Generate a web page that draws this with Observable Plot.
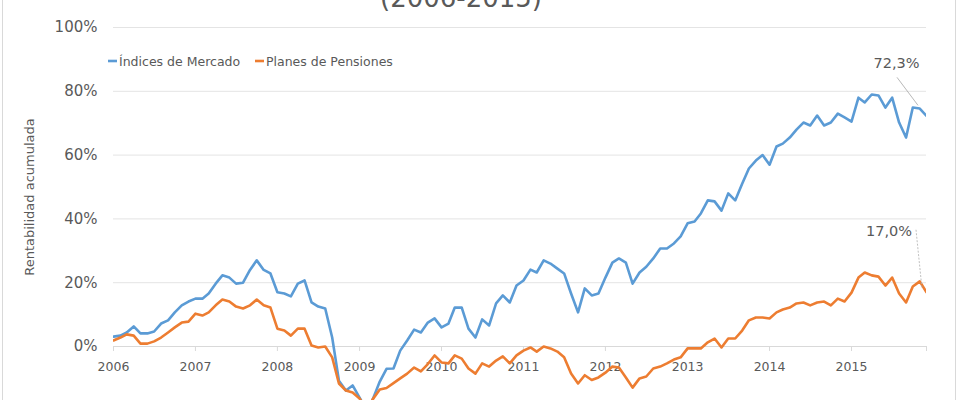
<!DOCTYPE html>
<html>
<head>
<meta charset="utf-8">
<script src="https://cdn.jsdelivr.net/npm/d3@7"></script>
<script src="https://cdn.jsdelivr.net/npm/@observablehq/plot@0.6"></script>
<style>
  html, body { margin: 0; padding: 0; background: #fff; }
  #wrap { position: relative; width: 960px; height: 400px; overflow: hidden; font-family: "DejaVu Sans", sans-serif; color: #595959; }
  #wrap svg.ov { position: absolute; left: 0; top: 0; pointer-events: none; }
  .edge { position: absolute; top: -10px; height: 420px; width: 0; border-left: 1px solid #d9d9d9; }
</style>
</head>
<body>
<div id="wrap">
  <div id="chart"></div>
  <svg class="ov" width="960" height="400" font-family="DejaVu Sans, sans-serif" fill="#595959">
    <text id="title" x="461" y="7" text-anchor="middle" font-size="26"></text>
    <text id="ylabel" transform="translate(34,197) rotate(-90)" text-anchor="middle" font-size="13"></text>
    <g id="legend"></g>
  </svg>
  <div class="edge" style="left:2px"></div>
  <div class="edge" style="left:955px"></div>
</div>
<script>
// ---- data ----
const titleText = "(2006-2015)";
const yAxisLabel = "Rentabilidad acumulada";
const seriesNames = ["Índices de Mercado", "Planes de Pensiones"];
const seriesColors = ["#5b9bd5", "#ed7d31"];
const startMonth = "2006-01-01";
const yearLabels = ["2006","2007","2008","2009","2010","2011","2012","2013","2014","2015"];
const yTicks = [0, 20, 40, 60, 80, 100];

// Monthly cumulative return (%), Jan 2006 - Dec 2015
const indices = [
  3.1, 3.4, 4.4, 6.3, 4.1, 4.1, 4.7, 7.2, 8.2, 10.7, 12.9, 14.1,
  15.0, 15.0, 16.6, 19.7, 22.3, 21.6, 19.7, 20.0, 24.0, 27.0, 24.0, 22.9,
  17.0, 16.6, 15.7, 19.7, 20.7, 13.8, 12.5, 11.9, 2.8, -10.7, -13.8, -12.2,
  -16.0, -20.0, -16.5, -11.0, -7.0, -6.9, -1.3, 1.9, 5.3, 4.4, 7.5, 8.8,
  6.0, 7.2, 12.2, 12.2, 5.6, 2.8, 8.5, 6.6, 13.5, 16.0, 13.8, 19.1,
  20.7, 24.1, 23.2, 27.0, 26.0, 24.4, 22.9, 16.6, 10.7, 18.2, 16.0, 16.6,
  21.6, 26.3, 27.6, 26.3, 19.7, 23.2, 25.0, 27.6, 30.7, 30.7, 32.3, 34.5,
  38.6, 39.2, 41.7, 45.8, 45.5, 42.6, 48.0, 45.8, 51.0, 55.8, 58.3, 60.0,
  57.0, 62.7, 63.6, 65.5, 68.0, 70.2, 69.3, 72.4, 69.3, 70.2, 73.0, 71.8,
  70.5, 78.0, 76.5, 79.0, 78.7, 74.9, 78.0, 70.2, 65.5, 74.9, 74.6, 72.3
];
const planes = [
  1.9, 2.8, 3.8, 3.4, 0.9, 0.9, 1.6, 2.8, 4.4, 6.0, 7.5, 7.8,
  10.3, 9.7, 10.7, 12.9, 14.7, 14.1, 12.5, 11.9, 12.9, 14.7, 12.9, 12.2,
  5.6, 5.0, 3.4, 5.6, 5.6, 0.3, -0.3, 0.0, -3.4, -11.6, -13.8, -14.4,
  -16.3, -20.0, -16.5, -13.5, -13.0, -11.5, -10.0, -8.5, -6.6, -7.8, -5.5, -2.8,
  -5.0, -5.3, -2.8, -3.8, -6.9, -8.5, -5.3, -6.3, -4.4, -3.1, -5.3, -2.8,
  -1.3, -0.3, -1.6, 0.0, -0.6, -1.6, -3.4, -8.5, -11.6, -9.0, -10.5, -9.7,
  -8.2, -6.3, -6.6, -9.7, -12.9, -10.0, -9.4, -6.9, -6.3, -5.3, -4.1, -3.4,
  -0.6, -0.6, -0.6, 1.3, 2.5, -0.3, 2.5, 2.5, 5.0, 8.2, 9.1, 9.1,
  8.8, 10.7, 11.6, 12.2, 13.5, 13.8, 12.9, 13.8, 14.1, 12.9, 15.0, 14.1,
  16.9, 21.6, 23.2, 22.3, 21.9, 19.1, 21.6, 16.6, 13.8, 18.8, 20.4, 17.0
];
const finalLabels = ["72,3%", "17,0%"];

// ---- build ----
const start = new Date(startMonth);
const dates = indices.map((_, i) => d3.utcMonth.offset(start, i));
const rows = [];
indices.forEach((v, i) => rows.push({date: dates[i], value: v, series: seriesNames[0]}));
planes.forEach((v, i) => rows.push({date: dates[i], value: v, series: seriesNames[1]}));
const yearDates = yearLabels.map(y => new Date(`${y}-01-01`));
const tickDates = [...yearDates, dates[dates.length - 1]];
const last = dates.length - 1;
const endPts = [
  {date: dates[last], value: indices[last], label: finalLabels[0]},
  {date: dates[last], value: planes[last], label: finalLabels[1]}
];

const plot = Plot.plot({
  width: 960,
  height: 400,
  marginLeft: 113,
  marginRight: 34,
  marginTop: 27,
  marginBottom: 0,
  style: {fontFamily: "DejaVu Sans, sans-serif", color: "#595959", background: "transparent", overflow: "hidden"},
  x: {type: "utc", domain: [dates[0], dates[last]], axis: null},
  y: {domain: [-16.93, 100], axis: null},
  color: {domain: seriesNames, range: seriesColors},
  marks: [
    Plot.ruleY(yTicks.filter(d => d !== 0), {stroke: "#e4e4e4", strokeWidth: 1}),
    Plot.axisY(yTicks, {anchor: "left", tickSize: 0, tickPadding: 16, tickFormat: d => d + "%", fontSize: 15, label: null}),
    Plot.ruleY([0], {stroke: "#d9d9d9", strokeWidth: 1}),
    Plot.ruleX(tickDates, {x: d => d, y1: 0, y2: 0, insetBottom: -5, stroke: "#d9d9d9"}),
    Plot.text(yearDates, {x: d => d, y: 0, dy: 21, text: (d, i) => yearLabels[i], fontSize: 12.5, fill: "#595959"}),
    Plot.line(rows, {x: "date", y: "value", z: "series", stroke: "series", strokeWidth: 2.6, strokeLinejoin: "round", strokeLinecap: "round", clip: true}),
    Plot.text([endPts[0]], {x: "date", y: "value", text: "label", dx: -30, dy: -53, fontSize: 14.5, fill: "#595959"}),
    Plot.text([endPts[1]], {x: "date", y: "value", text: "label", dx: -37.5, dy: -61, fontSize: 14.5, fill: "#595959"})
  ]
});
document.getElementById("chart").appendChild(plot);

// leader lines from the labels to the final points
const sx = plot.scale("x"), sy = plot.scale("y");
const svgSel = d3.select(plot);
const p0x = sx.apply(endPts[0].date), p0y = sy.apply(endPts[0].value);
const p1x = sx.apply(endPts[1].date), p1y = sy.apply(endPts[1].value);
svgSel.append("line").attr("x1", p0x - 29).attr("y1", p0y - 38).attr("x2", p0x - 8).attr("y2", p0y - 10)
  .attr("stroke", "#a6a6a6").attr("stroke-width", 0.8);
svgSel.append("line").attr("x1", p1x - 10).attr("y1", p1y - 62).attr("x2", p1x - 4).attr("y2", p1y - 3)
  .attr("stroke", "#b0b0b0").attr("stroke-width", 0.8).attr("stroke-dasharray", "2,1.5");

// overlays: title, y label, legend
document.getElementById("title").textContent = titleText;
document.getElementById("ylabel").textContent = yAxisLabel;
const lg = d3.select("#legend");
const legendPos = [108, 255];
seriesNames.forEach((name, i) => {
  const x = legendPos[i];
  lg.append("line").attr("x1", x).attr("x2", x + 9).attr("y1", 61).attr("y2", 61)
    .attr("stroke", seriesColors[i]).attr("stroke-width", 2.6);
  lg.append("text").attr("x", x + 11).attr("y", 65.5).attr("font-size", 12.5).text(name);
});
</script>
</body>
</html>
